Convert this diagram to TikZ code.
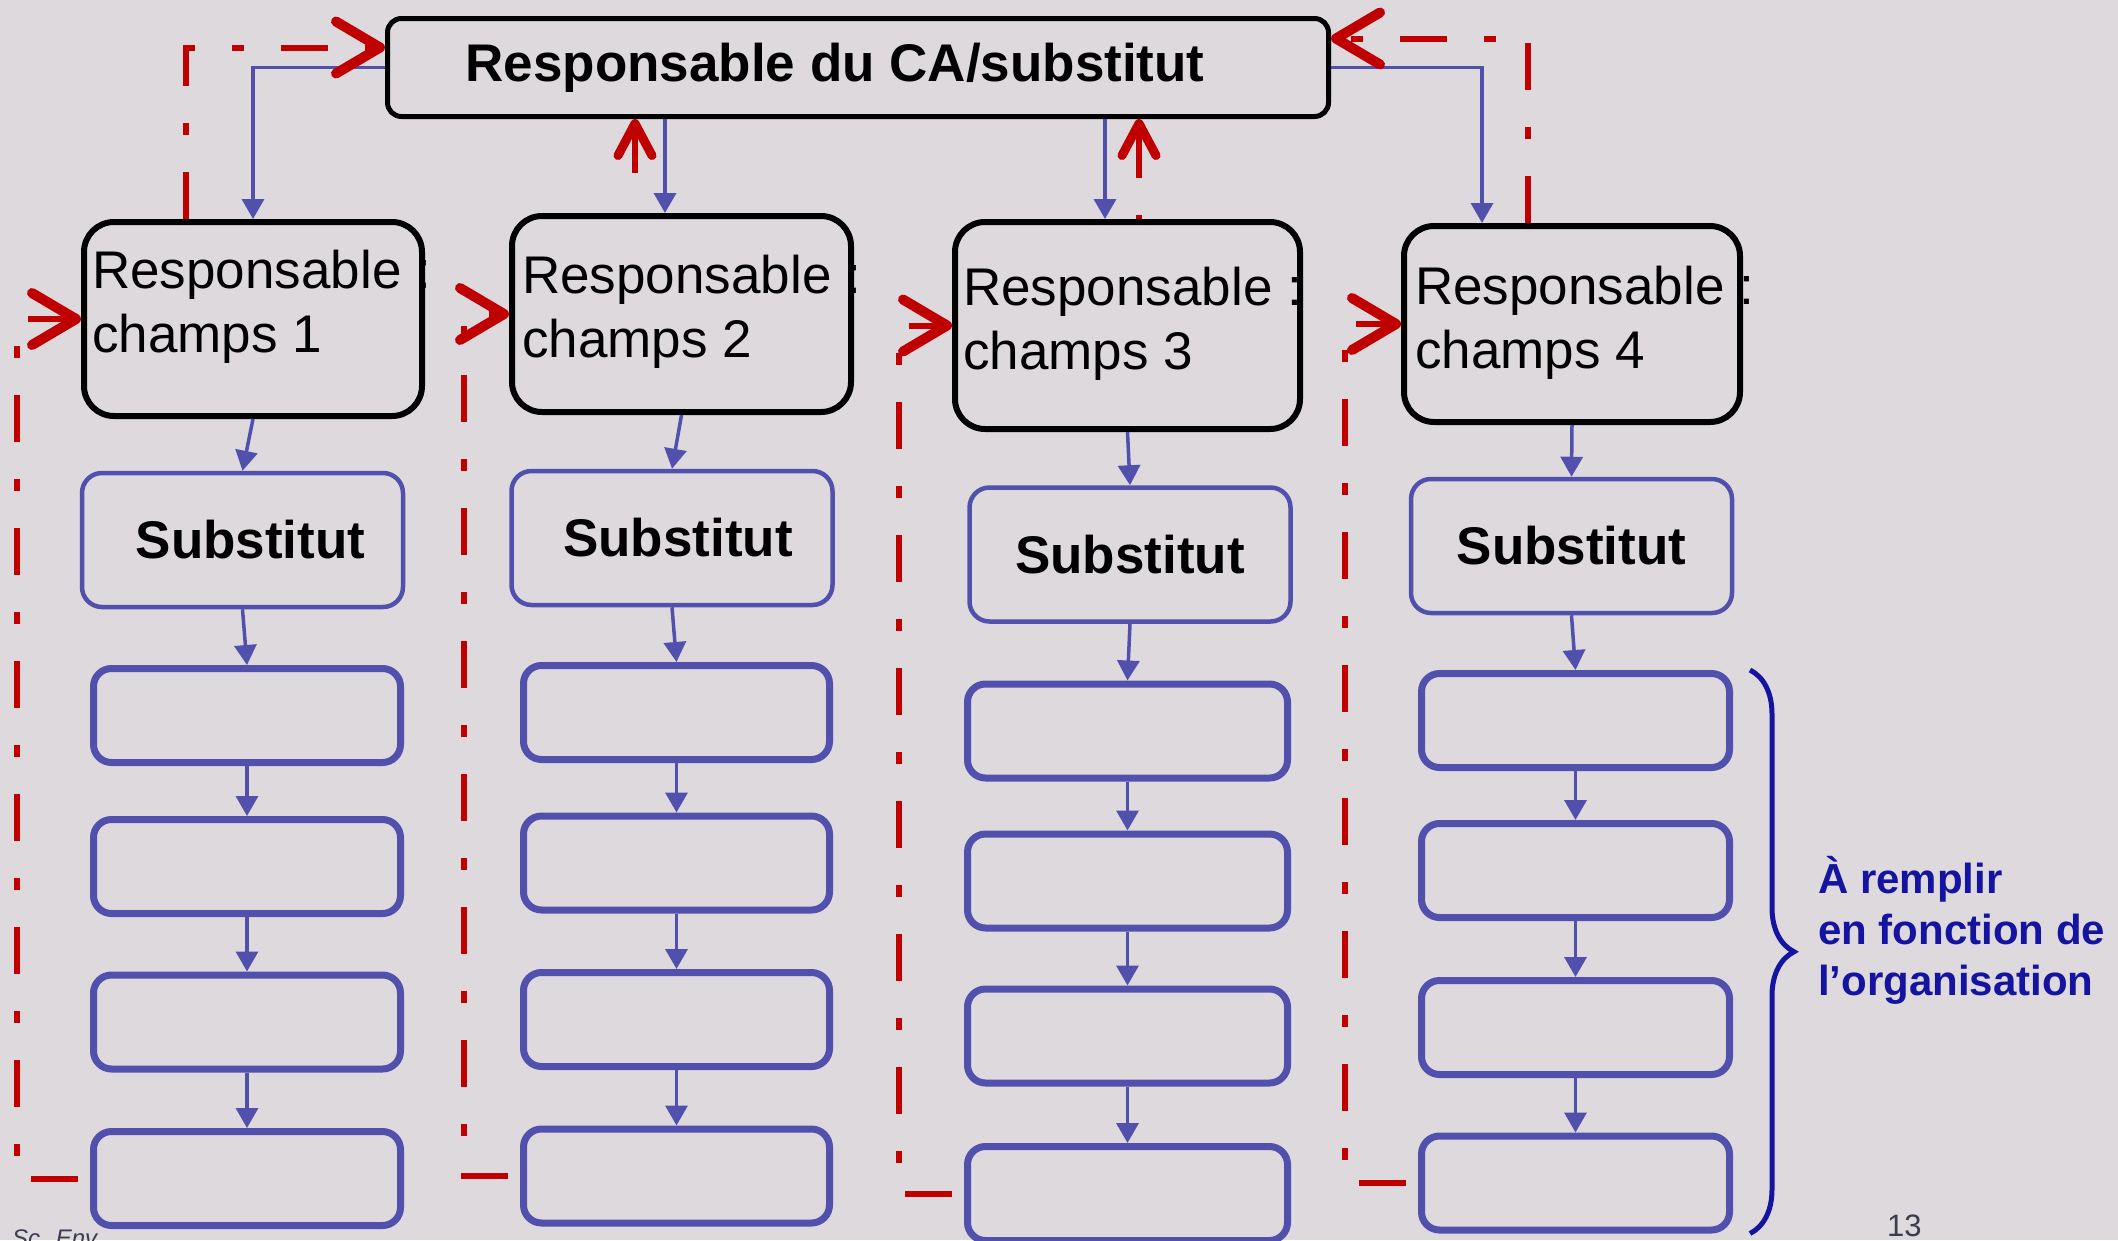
\documentclass[tikz,border=0pt]{standalone}
\usepackage{fontspec}
\setmainfont{Liberation Sans}
\usetikzlibrary{arrows.meta,decorations.pathreplacing}

\definecolor{fond}{RGB}{221,217,221}
\definecolor{bleucase}{RGB}{81,81,173}
\definecolor{rouge}{RGB}{192,0,0}
\definecolor{bleufonce}{RGB}{20,20,160}
\definecolor{gris}{RGB}{60,60,80}

\tikzset{
	ca/.style={draw=black, line width=5pt, rounded corners=14pt, inner sep=0pt, font=\fontsize{53}{64}\selectfont\bfseries},
	champ/.style={draw=black, line width=6pt, rounded corners=30pt},
	champtxt/.style={inner sep=0pt, align=left, font=\fontsize{53}{64}\selectfont},
	subst/.style={draw=bleucase, line width=4.5pt, rounded corners=20pt, inner sep=0pt, font=\fontsize{53}{64}\selectfont\bfseries},
	case/.style={draw=bleucase, line width=7pt, rounded corners=18pt, minimum height=94pt},
	fleche/.style={draw=bleucase, line width=3.5pt, -{Triangle[length=20pt,width=22pt]}},
	boucle/.style={draw=rouge, line width=6pt, dash pattern=on 47pt off 37pt on 12pt off 37pt},
	chevron/.style={-{Straight Barb[length=44pt,width=52pt,line width=10pt,round]}},
	petitchevron/.style={-{Straight Barb[length=32pt,width=34pt,line width=9pt,round]}},
	note/.style={inner sep=0pt, align=left, text=bleufonce, font=\fontsize{42}{51}\selectfont\bfseries}
}

\begin{document}
\begin{tikzpicture}[x=1pt,y=-1pt]
	\fill[fond] (0,0) rectangle (2118,1240);
	\useasboundingbox (0,0) rectangle (2118,1240);

	\node[ca, minimum width=941pt, minimum height=98pt] (resp) at (858,67.5) {Responsable du CA/substitut\kern46pt};

	\node[champ, minimum width=338pt, minimum height=194pt] (c1) at (253,319) {};
	\node[champ, minimum width=339pt, minimum height=196pt] (c2) at (681.5,314) {};
	\node[champ, minimum width=345pt, minimum height=207pt] (c3) at (1127.5,325.5) {};
	\node[champ, minimum width=336pt, minimum height=196pt] (c4) at (1572,324) {};
	\node[champtxt, anchor=base west] (t1) at ([shift={(11,133)}]c1.north west) {Responsable :\\champs 1};
	\node[champtxt, anchor=base west] (t2) at ([shift={(13,144)}]c2.north west) {Responsable :\\champs 2};
	\node[champtxt, anchor=base west] (t3) at ([shift={(11,150)}]c3.north west) {Responsable :\\champs 3};
	\node[champtxt, anchor=base west] (t4) at ([shift={(14,145)}]c4.north west) {Responsable :\\champs 4};

	\node[subst, minimum width=321pt, minimum height=134pt] (s1) at (242.5,540) {\hspace{16pt}Substitut};
	\node[subst, minimum width=321pt, minimum height=134pt] (s2) at (672,538) {\hspace{12pt}Substitut};
	\node[subst, minimum width=321pt, minimum height=134pt] (s3) at (1130,554.5) {Substitut};
	\node[subst, minimum width=321pt, minimum height=134pt] (s4) at (1571.5,546) {Substitut};

	\node[case, minimum width=307pt] (e11) at (247,715.5) {};
	\node[case, minimum width=307pt] (e12) at (247,866.5) {};
	\node[case, minimum width=307pt] (e13) at (247,1022) {};
	\node[case, minimum width=307pt] (e14) at (247,1178.5) {};
	\node[case, minimum width=306pt] (e21) at (676.5,712.5) {};
	\node[case, minimum width=306pt] (e22) at (676.5,863) {};
	\node[case, minimum width=306pt] (e23) at (676.5,1019.5) {};
	\node[case, minimum width=306pt] (e24) at (676.5,1176) {};
	\node[case, minimum width=320pt] (e31) at (1127.5,731) {};
	\node[case, minimum width=320pt] (e32) at (1127.5,881) {};
	\node[case, minimum width=320pt] (e33) at (1127.5,1036) {};
	\node[case, minimum width=320pt] (e34) at (1127.5,1193.5) {};
	\node[case, minimum width=308pt] (e41) at (1575.5,720.5) {};
	\node[case, minimum width=308pt] (e42) at (1575.5,870.5) {};
	\node[case, minimum width=308pt] (e43) at (1575.5,1027.5) {};
	\node[case, minimum width=308pt] (e44) at (1575.5,1183) {};

	\coordinate (d2) at ([xshift=-16.5pt]c2.north);
	\coordinate (d3) at ([xshift=-22.5pt]c3.north);
	\draw[fleche] (resp.west) -| (c1.north);
	\draw[fleche] (d2 |- resp.south) -- (d2);
	\draw[fleche] (d3 |- resp.south) -- (d3);
	\draw[fleche] (resp.east) -| ([xshift=-90pt]c4.north);

	\draw[fleche] (c1.south) -- (s1.north);
	\draw[fleche] (s1.south) -- (e11.north);
	\draw[fleche] (e11.south) -- (e12.north);
	\draw[fleche] (e12.south) -- (e13.north);
	\draw[fleche] (e13.south) -- (e14.north);
	\draw[fleche] (c2.south) -- (s2.north);
	\draw[fleche] (s2.south) -- (e21.north);
	\draw[fleche] (e21.south) -- (e22.north);
	\draw[fleche] (e22.south) -- (e23.north);
	\draw[fleche] (e23.south) -- (e24.north);
	\draw[fleche] (c3.south) -- (s3.north);
	\draw[fleche] (s3.south) -- (e31.north);
	\draw[fleche] (e31.south) -- (e32.north);
	\draw[fleche] (e32.south) -- (e33.north);
	\draw[fleche] (e33.south) -- (e34.north);
	\draw[fleche] (c4.south) -- (s4.north);
	\draw[fleche] (s4.south) -- (e41.north);
	\draw[fleche] (e41.south) -- (e42.north);
	\draw[fleche] (e42.south) -- (e43.north);
	\draw[fleche] (e43.south) -- (e44.north);

	\coordinate (r2) at ([xshift=-46.5pt]c2.north);
	\coordinate (r3) at ([xshift=11.5pt]c3.north);
	\draw[boucle, chevron] ([xshift=-67pt]c1.north) |- ([yshift=20pt]resp.west);
	\draw[boucle, chevron] ([xshift=-44pt]c4.north) |- ([yshift=29pt]resp.east);
	\draw[boucle, petitchevron, dash pattern=on 0pt off 40pt on 200pt] (r2) -- (r2 |- resp.south);
	\draw[boucle, petitchevron, dash pattern=on 4pt off 37pt on 200pt] (r3) -- (r3 |- resp.south);
	\draw[boucle, chevron, dash phase=121pt] (e14.west) -| ([xshift=-64pt]c1.west) -- (c1.west);
	\draw[boucle, chevron, dash phase=121pt] (e24.west) -| ([xshift=-45pt]c2.west) -- (c2.west);
	\draw[boucle, chevron, dash phase=121pt] (e34.west) -| ([xshift=-53pt]c3.west) -- (c3.west);
	\draw[boucle, chevron, dash phase=121pt] (e44.west) -| ([xshift=-56pt]c4.west) -- (c4.west);

	\draw[draw=bleufonce, line width=5pt, decorate, decoration={brace, amplitude=44pt}] ([xshift=17pt]e41.north east) -- ([xshift=17pt]e44.south east);
	\node[note, anchor=west] (remplir) at (1818,930) {À remplir\\en fonction de\\l’organisation};

	\node[inner sep=0pt, anchor=north west, text=gris, font=\fontsize{24}{28}\selectfont\itshape] (pied) at (12,1230) {Sc. Env.};
	\node[inner sep=0pt, anchor=base west, text=gris, font=\fontsize{31}{36}\selectfont] (page) at (1887,1236) {13};
\end{tikzpicture}
\end{document}
